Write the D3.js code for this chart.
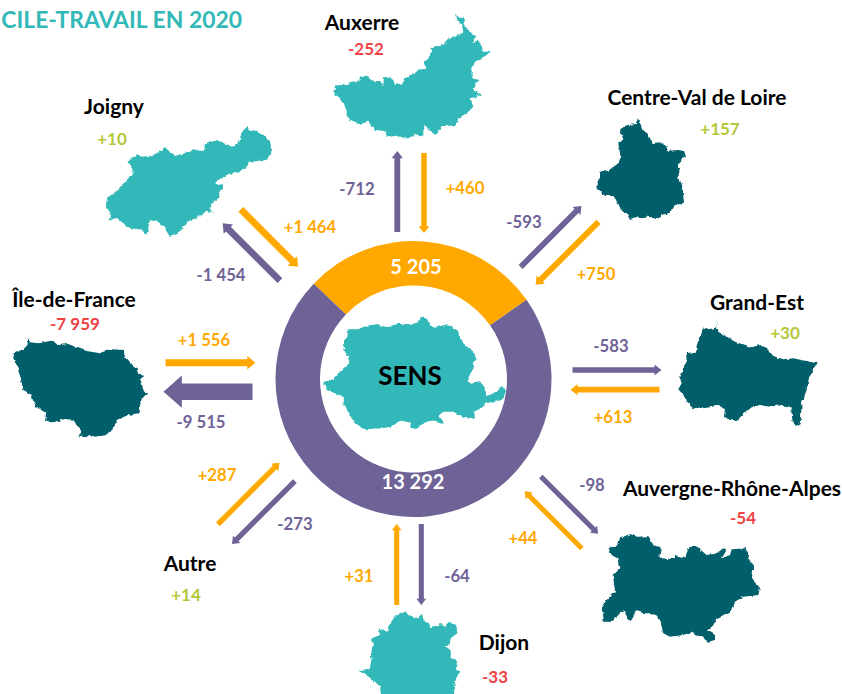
<!DOCTYPE html>
<html lang="fr">
<head>
<meta charset="utf-8">
<script src="https://cdn.jsdelivr.net/npm/d3@7"></script>
<style>
  html, body { margin: 0; padding: 0; background: #fff; overflow: hidden; }
  svg { display: block; font-family: Lato, "Open Sans", sans-serif; font-weight: 700; }
</style>
</head>
<body>
<svg id="chart" width="842" height="694"></svg>
<script>
// --- values ---
const titleText = "CILE-TRAVAIL EN 2020";
const centerName = "SENS";
const totalLabels = ["entrants", "sortants"];
const totalValues = [5205, 13292];

const territories = ["Auxerre", "Centre-Val de Loire", "Grand-Est", "Auvergne-Rhône-Alpes", "Dijon", "Autre", "Île-de-France", "Joigny"];
const outgoing = [-712, -593, -583, -98, -64, -273, -9515, -1454];
const incoming = [460, 750, 613, 44, 31, 287, 1556, 1464];
const balance = [-252, 157, 30, -54, -33, 14, -7959, 10];

// --- layout, same order as territories ---
const spokeAngles = [0, 45, 90, 135, 180, 225, 270, 315];
const outRadii = [[147, 228], [155, 241], [159, 248], [159, 240], [145, 226], [156, 245], [161, 250], [164, 245]];
const inRadii = [[146, 226], [153, 242], [157, 246], [158, 239], [145, 226], [154, 241], [158, 248], [161, 242]];
const outOffsets = [-16.2, -3.5, -9, -21.1, -7.8, 11.7, -12.7, -24.9];
const inOffsets = [10.5, 19.7, 10.7, 0.8, 16.8, 35.6, 16.3, -2.2];
const namePos = [[362, 21], [697, 96], [757, 301], [732, 487], [504, 641], [190, 562], [74, 298], [114, 105]];
const balancePos = [[366, 48], [720, 128], [785, 332], [743, 517], [495, 676], [186, 594], [75, 323], [112, 138]];
const outLabelPos = [[357, 189], [524, 222], [611, 346], [592, 485], [457, 576], [295, 524], [201, 422], [221, 275]];
const inLabelPos = [[465, 188], [596, 274], [613, 417], [523, 538], [359, 576], [217, 475], [204, 340], [310, 227]];

// outlines traced on 3x crops of the picture, placed with mapOrigins
const shapeAuxerre = [[465,42],[478,52],[495,58],[490,70],[500,85],[510,100],[525,108],[520,125],[540,122],[545,150],[568,157],[545,178],[525,185],[515,210],[515,235],[538,240],[525,255],[520,272],[545,283],[530,292],[510,295],[520,320],[500,340],[475,355],[470,375],[440,378],[425,378],[410,405],[395,400],[378,375],[370,378],[370,410],[345,403],[325,415],[305,415],[280,408],[265,413],[250,392],[225,390],[205,365],[180,372],[160,368],[140,350],[140,320],[125,305],[115,290],[103,283],[105,260],[125,255],[150,250],[178,242],[180,228],[198,230],[215,240],[240,245],[250,255],[252,232],[265,230],[280,240],[285,255],[305,250],[315,232],[340,222],[362,205],[378,208],[372,190],[390,170],[395,145],[430,135],[445,118],[475,105],[490,95],[485,75],[470,60]];
const shapeCentre = [[236,145],[243,165],[247,180],[262,190],[270,205],[278,222],[305,220],[323,232],[322,242],[355,240],[372,243],[378,260],[365,270],[350,285],[360,300],[355,320],[360,340],[368,360],[372,398],[340,408],[330,428],[305,435],[300,445],[260,440],[235,442],[210,450],[200,430],[182,420],[175,400],[160,378],[135,378],[108,350],[120,322],[122,305],[145,302],[175,280],[182,262],[178,240],[175,220],[190,205],[180,178],[205,165],[228,162]];
const shapeGrandEst = [[472,88],[470,105],[462,115],[445,118],[428,112],[425,130],[415,150],[410,170],[408,185],[378,190],[380,215],[372,228],[358,260],[365,280],[355,298],[375,320],[382,335],[402,355],[440,350],[470,345],[495,358],[492,378],[510,390],[530,393],[550,372],[575,352],[600,345],[630,350],[665,345],[692,352],[698,395],[710,410],[722,402],[725,340],[740,300],[745,270],[760,240],[770,220],[735,212],[700,205],[670,208],[640,198],[625,180],[600,165],[575,172],[548,162],[525,155],[500,140],[478,125],[468,112]];
const shapeAra = [[296,265],[325,255],[330,232],[360,223],[385,230],[415,228],[430,255],[452,262],[448,292],[470,298],[490,295],[495,285],[525,295],[540,258],[560,258],[575,272],[590,285],[620,280],[640,265],[650,270],[635,295],[660,285],[665,268],[710,265],[718,300],[733,318],[722,340],[728,360],[750,383],[745,405],[700,410],[675,425],[668,440],[660,455],[620,475],[605,505],[590,510],[615,525],[615,540],[595,545],[575,530],[555,525],[548,515],[520,525],[480,530],[460,520],[450,480],[430,460],[402,460],[380,450],[360,485],[340,450],[320,470],[300,485],[282,485],[275,440],[290,420],[315,393],[308,345],[328,325],[322,295],[305,285]];
const shapeDijon = [[225,302],[235,315],[265,325],[275,315],[280,328],[300,345],[305,355],[330,342],[345,350],[360,335],[378,345],[382,370],[362,385],[360,402],[342,410],[362,420],[362,445],[385,450],[378,480],[390,485],[375,515],[370,570],[155,570],[150,530],[125,505],[105,490],[85,480],[118,478],[125,450],[122,430],[132,400],[125,385],[150,375],[145,355],[160,360],[175,365],[180,340],[195,320]];
const shapeIdf = [[85,205],[90,217],[115,220],[155,212],[175,225],[205,222],[235,235],[260,243],[300,250],[335,238],[370,240],[375,262],[390,280],[412,295],[418,312],[433,315],[420,325],[425,340],[432,365],[445,367],[430,385],[420,405],[415,430],[385,435],[350,450],[340,480],[320,495],[280,500],[245,497],[235,500],[245,480],[230,465],[220,450],[195,447],[160,457],[135,455],[138,430],[110,410],[100,395],[95,375],[70,360],[62,325],[50,285],[40,265],[42,248],[70,238],[82,225]];
const shapeJoigny = [[382,483],[400,470],[410,463],[430,470],[460,465],[480,452],[495,445],[510,452],[525,468],[545,462],[570,455],[580,448],[600,452],[612,452],[615,430],[640,422],[665,425],[685,438],[715,434],[722,410],[730,392],[740,381],[745,390],[770,392],[795,408],[812,432],[814,458],[800,480],[775,482],[750,486],[740,500],[725,515],[700,520],[685,522],[665,535],[645,545],[655,555],[668,552],[668,565],[660,578],[655,592],[640,605],[628,625],[643,638],[620,632],[600,645],[580,658],[560,665],[545,690],[525,703],[505,707],[495,685],[470,665],[450,660],[440,705],[425,690],[395,685],[380,682],[368,665],[345,655],[325,662],[332,640],[318,620],[322,592],[345,580],[365,555],[385,535],[398,525],[397,500]];
const shapeSens = [[162,460],[185,450],[195,440],[220,415],[238,400],[232,375],[218,350],[222,335],[232,320],[235,298],[265,298],[285,288],[320,283],[345,290],[385,282],[420,282],[445,278],[452,263],[470,265],[480,285],[495,295],[510,285],[545,288],[565,310],[580,340],[600,355],[622,385],[610,400],[605,425],[590,452],[605,458],[630,453],[645,480],[652,498],[670,490],[685,480],[695,468],[708,482],[700,505],[670,518],[650,515],[635,530],[615,548],[612,565],[580,562],[550,545],[520,545],[505,558],[522,582],[495,575],[470,575],[445,590],[428,598],[420,578],[390,572],[365,590],[335,595],[290,598],[270,595],[245,570],[235,545],[220,520],[222,500],[195,490],[170,480]];

const shapes = [shapeAuxerre, shapeCentre, shapeGrandEst, shapeAra, shapeDijon, null, shapeIdf, shapeJoigny];
const mapOrigins = [[300, 0], [560, 70], [560, 290], [510, 460], [330, 510], null, [0, 270], [0, 0]];
const mapDark = ["Centre-Val de Loire", "Grand-Est", "Auvergne-Rhône-Alpes", "Île-de-France"];

// --- styles ---
const ORANGE = "#FFA800", PURPLE = "#6F6296", TEAL = "#33B8B8", DARK = "#005F6B";
const RED = "#EE4444", GREEN = "#B5C73A", BLACK = "#000";
const cx = 413.5, cy = 379, outerR = 138, innerR = 93.5;

const fr = d3.formatLocale({ decimal: ",", thousands: " ", grouping: [3], currency: ["", " €"], minus: "-" });
const fmtSigned = fr.format("+,");
const fmtPlain = fr.format(",");

const svg = d3.select("#chart");

// crinkled coastline look for the shapes
const crinkle = svg.append("defs").append("filter").attr("id", "crinkle");
crinkle.append("feTurbulence")
  .attr("type", "fractalNoise")
  .attr("baseFrequency", 0.2)
  .attr("numOctaves", 2)
  .attr("seed", 4)
  .attr("result", "noise");
crinkle.append("feDisplacementMap")
  .attr("in", "SourceGraphic")
  .attr("in2", "noise")
  .attr("scale", 4)
  .attr("xChannelSelector", "R")
  .attr("yChannelSelector", "G");

function addLabel(g, txt, pos, size, fill) {
  g.append("text")
    .attr("x", pos[0])
    .attr("y", pos[1])
    .attr("text-anchor", "middle")
    .attr("dominant-baseline", "central")
    .attr("font-size", size)
    .attr("fill", fill)
    .text(txt);
}

// title, hugging the left edge like the source
svg.append("text")
  .attr("x", 242)
  .attr("y", 28)
  .attr("text-anchor", "end")
  .attr("font-size", 22.9)
  .attr("fill", TEAL)
  .text(titleText);

// territory shapes
const mapLayer = svg.append("g");
function drawShape(points, origin, fill) {
  const projection = d3.geoIdentity().scale(1 / 3).translate(origin);
  const ring = points.concat([points[0]]);
  mapLayer.append("path")
    .attr("d", d3.geoPath(projection)({ type: "Polygon", coordinates: [ring] }))
    .attr("fill", fill)
    .attr("filter", "url(#crinkle)");
}
territories.forEach((name, i) => {
  if (!shapes[i]) return;
  drawShape(shapes[i], mapOrigins[i], mapDark.includes(name) ? DARK : TEAL);
});

// donut of totals
const pie = d3.pie()
  .sort(null)
  .startAngle(-46.3 * Math.PI / 180)
  .endAngle((360 - 46.3) * Math.PI / 180);
const arc = d3.arc().innerRadius(innerR).outerRadius(outerR);
const donut = svg.append("g").attr("transform", `translate(${cx},${cy})`);
donut.selectAll("path")
  .data(pie(totalValues))
  .join("path")
  .attr("d", arc)
  .attr("fill", (d, i) => (i === 0 ? ORANGE : PURPLE))
  .attr("aria-label", (d, i) => totalLabels[i]);

// Sens sits in the hole, on top of the donut
mapLayer.raise();
drawShape(shapeSens, [270, 230], TEAL);
addLabel(svg, centerName, [410, 375], 26, BLACK);
addLabel(svg, fmtPlain(totalValues[0]), [416, 266], 20, "#fff");
addLabel(svg, fmtPlain(totalValues[1]), [413, 481], 20, "#fff");

// arrows: width follows the flow, position follows the spoke
const arrowWidth = d3.scaleLinear().domain([0, 9515]).range([5, 16.5]);
const spokePoint = (angle, r, side) => {
  const [ux, uy] = d3.pointRadial(angle * Math.PI / 180, 1);
  return [cx + ux * r - uy * side, cy + uy * r + ux * side];
};

function drawArrow(from, to, value, fill) {
  const w = arrowWidth(Math.abs(value));
  const headL = w * 1.05 + 1, headW = w * 1.95;
  const len = Math.hypot(to[0] - from[0], to[1] - from[1]);
  const a = Math.atan2(to[1] - from[1], to[0] - from[0]) * 180 / Math.PI;
  const shape = d3.path();
  shape.moveTo(0, -w / 2);
  shape.lineTo(len - headL, -w / 2);
  shape.lineTo(len - headL, -headW / 2);
  shape.lineTo(len, 0);
  shape.lineTo(len - headL, headW / 2);
  shape.lineTo(len - headL, w / 2);
  shape.lineTo(0, w / 2);
  shape.closePath();
  svg.append("path")
    .attr("transform", `translate(${from[0]},${from[1]}) rotate(${a})`)
    .attr("d", shape.toString())
    .attr("fill", fill);
}

territories.forEach((name, i) => {
  const angle = spokeAngles[i];
  drawArrow(spokePoint(angle, outRadii[i][0], outOffsets[i]), spokePoint(angle, outRadii[i][1], outOffsets[i]), outgoing[i], PURPLE);
  drawArrow(spokePoint(angle, inRadii[i][1], inOffsets[i]), spokePoint(angle, inRadii[i][0], inOffsets[i]), incoming[i], ORANGE);

  addLabel(svg, fmtSigned(outgoing[i]), outLabelPos[i], 16.7, PURPLE);
  addLabel(svg, fmtSigned(incoming[i]), inLabelPos[i], 16.7, ORANGE);
  addLabel(svg, name, namePos[i], 21, BLACK);
  addLabel(svg, fmtSigned(balance[i]), balancePos[i], 17, balance[i] < 0 ? RED : GREEN);
});
</script>
</body>
</html>
